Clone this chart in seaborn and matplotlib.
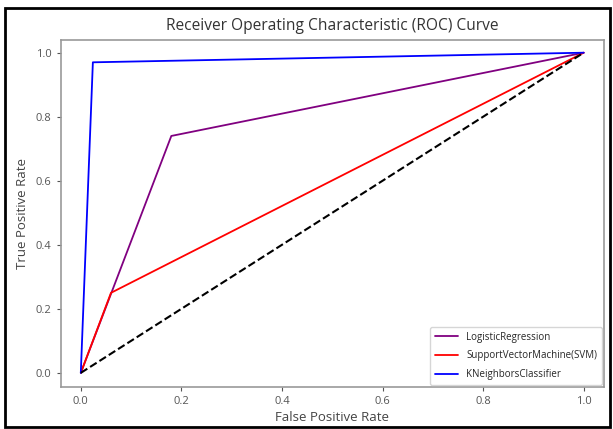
import numpy as np
import pandas as pd
import seaborn as sns
import matplotlib.pyplot as plt
from matplotlib.patches import Rectangle

# ROC points
fpr_lr = [0.0, 0.18, 1.0]
tpr_lr = [0.0, 0.74, 1.0]
fpr_svm = [0.0, 0.06, 1.0]
tpr_svm = [0.0, 0.25, 1.0]
fpr_knn = [0.0, 0.024, 1.0]
tpr_knn = [0.0, 0.97, 1.0]
diag = [0.0, 1.0]

model_names = ["LogisticRegression", "SupportVectorMachine(SVM)", "KNeighborsClassifier"]
colors = ["purple", "red", "blue"]

sns.set_style("ticks")
plt.rcParams['font.family'] = ['Open Sans', 'DejaVu Sans']

fig = plt.figure(figsize=(6.13, 4.29), dpi=100)
ax = fig.add_axes([0.099, 0.098, 0.886, 0.809])

roc = pd.concat([
    pd.DataFrame({"fpr": fpr_lr, "tpr": tpr_lr, "model": model_names[0]}),
    pd.DataFrame({"fpr": fpr_svm, "tpr": tpr_svm, "model": model_names[1]}),
    pd.DataFrame({"fpr": fpr_knn, "tpr": tpr_knn, "model": model_names[2]}),
])

for name, c in zip(model_names, colors):
    d = roc[roc["model"] == name]
    sns.lineplot(x="fpr", y="tpr", data=d, color=c, label=name, ax=ax,
                 sort=False, estimator=None, linewidth=1.3)
ax.plot(diag, diag, "k--", linewidth=1.5)

ax.set_xticks(np.arange(0, 1.01, 0.2))
ax.set_yticks(np.arange(0, 1.01, 0.2))
ax.set_xlim(-0.04, 1.04)
ax.set_ylim(-0.044, 1.04)
ax.tick_params(labelsize=8, colors="#555555", length=3, width=0.8)
for s in ax.spines.values():
    s.set_color("#999999")
    s.set_linewidth(1.2)
ax.set_title("Receiver Operating Characteristic (ROC) Curve", fontsize=11.2, color="#333333", pad=7)
ax.set_xlabel("False Positive Rate", fontsize=9.5, color="#444444", labelpad=3)
ax.set_ylabel("True Positive Rate", fontsize=9.5, color="#444444", labelpad=5)
ax.legend(loc="lower right", fontsize=7, handlelength=2.4, frameon=True,
          borderaxespad=0.2, labelspacing=0.8, borderpad=0.5)

fig.patches.append(Rectangle((0.008, 0.005), 0.987, 0.977, transform=fig.transFigure,
                             fill=False, edgecolor="black", linewidth=2))

plt.savefig("out.png", dpi=100)
